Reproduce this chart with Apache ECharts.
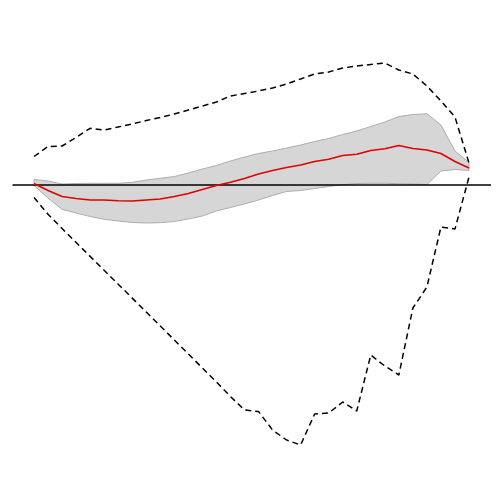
<!DOCTYPE html>
<html>
<head>
<meta charset="utf-8">
<script src="https://cdn.jsdelivr.net/npm/echarts@6/dist/echarts.min.js"></script>
<style>
  html, body { margin: 0; padding: 0; background: #fff; }
  #chart { width: 500px; height: 500px; }
</style>
</head>
<body>
<div id="chart"></div>
<script>
// horizons 0..31
var horizon = [];
for (var h = 0; h < 32; h++) horizon.push(h);

// point estimate (red)
var response = [0.015, -0.055, -0.115, -0.135, -0.15, -0.15, -0.158, -0.16, -0.15, -0.14,
  -0.115, -0.085, -0.045, -0.005, 0.027, 0.065, 0.11, 0.145, 0.175, 0.2,
  0.235, 0.257, 0.295, 0.307, 0.345, 0.363, 0.395, 0.365, 0.35, 0.315,
  0.235, 0.17];

// gray band
var bandLower = [-0.005, -0.13, -0.243, -0.28, -0.315, -0.343, -0.36, -0.375, -0.38, -0.377,
  -0.365, -0.34, -0.31, -0.26, -0.225, -0.19, -0.15, -0.105, -0.065, -0.055,
  -0.035, -0.015, 0.003, 0.015, 0.017, 0.017, 0.013, 0.01, 0.005, 0.14,
  0.155, 0.145];
var bandUpper = [0.055, 0.04, 0.01, 0.015, 0.017, 0.017, 0.017, 0.027, 0.05, 0.067,
  0.085, 0.12, 0.16, 0.195, 0.24, 0.28, 0.315, 0.34, 0.37, 0.4,
  0.435, 0.465, 0.505, 0.54, 0.585, 0.63, 0.685, 0.705, 0.713, 0.6,
  0.34, 0.227];

// dashed bounds
var ciUpper = [0.285, 0.385, 0.39, 0.475, 0.567, 0.55, 0.58, 0.61, 0.645, 0.675,
  0.71, 0.75, 0.79, 0.83, 0.89, 0.915, 0.94, 0.97, 1.01, 1.06,
  1.11, 1.13, 1.17, 1.19, 1.205, 1.22, 1.15, 1.11, 0.99, 0.84,
  0.68, 0.22];
var ciLower = [-0.125, -0.293, -0.435, -0.575, -0.714, -0.853, -0.992, -1.131, -1.27, -1.41,
  -1.55, -1.69, -1.83, -1.97, -2.115, -2.25, -2.265, -2.45, -2.55, -2.6,
  -2.29, -2.28, -2.17, -2.26, -1.7, -1.81, -1.9, -1.23, -1.02, -0.42,
  -0.44, 0.08];

// zero reference line extent
var zeroLineX = [-1.53, 32.57];

function pairs(ys) {
  return ys.map(function (v, i) { return [horizon[i], v]; });
}

var chart = echarts.init(document.getElementById("chart"));
chart.setOption({
  animation: false,
  grid: { left: 0, right: 0, top: 0, bottom: 0 },
  xAxis: {
    type: "value",
    min: -2.423,
    max: 33.209,
    show: false
  },
  yAxis: {
    type: "value",
    min: -3.15,
    max: 1.85,
    show: false
  },
  series: [
    {
      name: "band",
      type: "custom",
      data: horizon.map(function (x, i) { return [x, bandLower[i], bandUpper[i]]; }),
      renderItem: function (params, api) {
        // whole band drawn once as a single polygon
        if (params.dataIndex !== 0) return;
        var pts = [];
        for (var i = 0; i < horizon.length; i++) {
          pts.push(api.coord([horizon[i], bandUpper[i]]));
        }
        for (var j = horizon.length - 1; j >= 0; j--) {
          pts.push(api.coord([horizon[j], bandLower[j]]));
        }
        return {
          type: "polygon",
          shape: { points: pts },
          style: { fill: "#d6d6d6", stroke: "#adadad", lineWidth: 1 }
        };
      }
    },
    {
      name: "zero",
      type: "line",
      symbol: "none",
      lineStyle: { color: "#000", width: 1.5 },
      data: zeroLineX.map(function (x) { return [x, 0]; })
    },
    {
      name: "ciUpper",
      type: "line",
      symbol: "none",
      lineStyle: { color: "#000", width: 1.5, type: [6, 4] },
      data: pairs(ciUpper)
    },
    {
      name: "ciLower",
      type: "line",
      symbol: "none",
      lineStyle: { color: "#000", width: 1.5, type: [6, 4] },
      data: pairs(ciLower)
    },
    {
      name: "response",
      type: "line",
      symbol: "none",
      lineStyle: { color: "#e00000", width: 1.5 },
      data: pairs(response)
    }
  ]
});
</script>
</body>
</html>
